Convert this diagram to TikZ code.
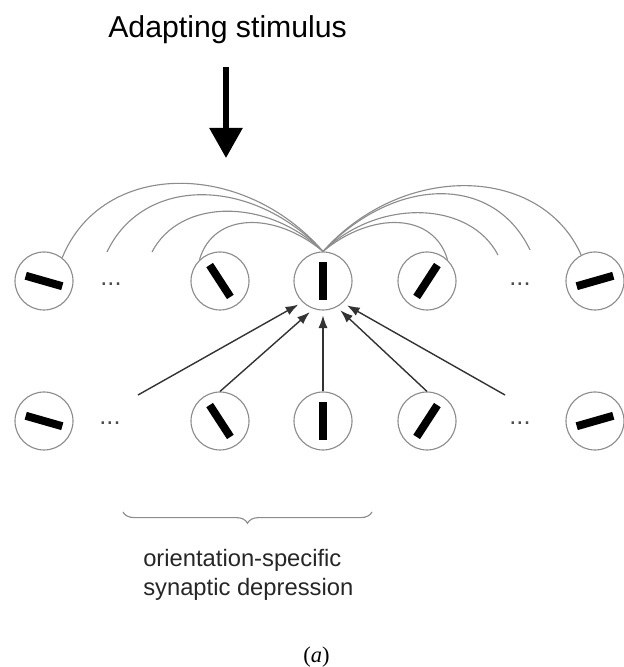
\documentclass[tikz,border=0pt]{standalone}
\usepackage{fontspec}
\setmainfont{Liberation Sans}
\newfontfamily\capfont{Liberation Serif}
\usetikzlibrary{arrows.meta,decorations.pathreplacing}

\tikzset{
  neuron/.style={circle, draw=black!45, line width=0.8pt, minimum size=1.45cm, inner sep=0pt},
  bar/.style={rectangle, fill=black, minimum width=0.95cm, minimum height=0.2cm, inner sep=0pt},
  lateral/.style={black!45, line width=0.8pt},
  feed/.style={-{Latex[length=9pt,width=6.5pt]}, black!80, line width=1pt, shorten >=0.12cm},
  dots/.style={text=black!70, inner sep=0pt, font=\fontsize{18}{18}\selectfont}
}

\begin{document}
\begin{tikzpicture}
\useasboundingbox (0,0) rectangle (15.575,16.675);

% the stimulus
\node[anchor=base, inner sep=0pt, font=\fontsize{21.5}{24}\selectfont] (stim) at (5.69,15.725) {Adapting stimulus};
\coordinate (tip) at (5.65,12.725);
\draw[-{Triangle[length=0.75cm,width=0.8cm]}, line width=4pt] (tip |- 0,15.0) -- (tip);

% top row of neurons
\node[neuron] (t1) at (1.1,9.65) {};
\node[neuron] (t2) at (5.5,9.65) {};
\node[neuron] (t3) at (8.075,9.65) {};
\node[neuron] (t4) at (10.675,9.65) {};
\node[neuron] (t5) at (14.875,9.65) {};
\node[dots, anchor=base] (td1) at (2.775,9.525) {...};
\node[dots, anchor=base] (td2) at (13.0,9.525) {...};

% bottom row of neurons
\node[neuron] (b1) at (1.1,6.15) {};
\node[neuron] (b2) at (5.5,6.15) {};
\node[neuron] (b3) at (8.075,6.15) {};
\node[neuron] (b4) at (10.675,6.15) {};
\node[neuron] (b5) at (14.875,6.15) {};
\node[dots, anchor=base] (bd1) at (2.75,6.05) {...};
\node[dots, anchor=base] (bd2) at (13.0,6.05) {...};

% preferred orientations
\foreach \n/\a in {t1/-16,t2/-57,t3/90,t4/57,t5/16,b1/-16,b2/-57,b3/90,b4/57,b5/16}
  \node[bar, rotate=\a] at (\n) {};

% lateral connections onto the middle neuron
\coordinate (l2) at (2.675,10.375);
\coordinate (l3) at (3.8,10.375);
\coordinate (r2) at (12.45,10.3);
\coordinate (r3) at (13.25,10.425);
\draw[lateral] (t1.52)  .. controls +(1.0,2.45) and +(-2.0,2.3) .. (t3.north);
\draw[lateral] (l2)     .. controls +(0.9,1.9)  and +(-1.8,1.9) .. (t3.north);
\draw[lateral] (l3)     .. controls +(0.7,1.35) and +(-1.4,1.35) .. (t3.north);
\draw[lateral] (t2.134) .. controls +(0.35,1.2) and +(-1.2,1.0) .. (t3.north);
\draw[lateral] (t4.46)  .. controls +(-0.35,1.2) and +(1.2,1.0) .. (t3.north);
\draw[lateral] (r2)     .. controls +(-0.7,1.35) and +(1.4,1.35) .. (t3.north);
\draw[lateral] (r3)     .. controls +(-0.9,1.9)  and +(1.8,1.9) .. (t3.north);
\draw[lateral] (t5.118) .. controls +(-1.0,2.25) and +(2.0,2.25) .. (t3.north);

% feedforward input
\coordinate (f1) at (3.45,6.8);
\coordinate (f5) at (12.625,6.8);
\draw[feed] (f1) -- (t3.-134);
\draw[feed] (b2.north) -- (t3.-109);
\draw[feed] (b3.north) -- (t3.south);
\draw[feed] (b4.north) -- (t3.-62);
\draw[feed] (f5) -- (t3.-48);

% depressed synapses
\coordinate (br1) at (3.075,3.875);
\coordinate (br2) at (9.3,3.875);
\draw[lateral, decorate, decoration={brace, mirror, amplitude=0.28cm}] (br1) -- (br2);
\node[anchor=west, align=left, inner sep=0pt, text=black!85, font=\fontsize{16.9}{20}\selectfont] (desc) at (3.575,2.305)
  {orientation-specific\\synaptic depression};

\node[anchor=base, inner sep=0pt, font=\capfont\fontsize{16}{18}\selectfont] (cap) at (7.91,0.125) {(\textit{a})};
\end{tikzpicture}
\end{document}
